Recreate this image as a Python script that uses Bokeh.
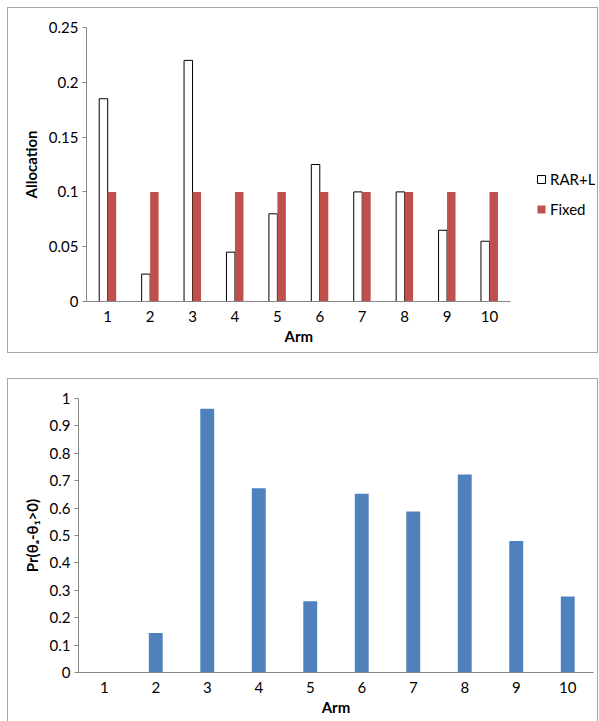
from bokeh.plotting import figure
from bokeh.models import (ColumnDataSource, FactorRange, Range1d, FixedTicker,
                          NumeralTickFormatter, Legend, LegendItem, Spacer, Title)
from bokeh.transform import dodge
from bokeh.layouts import column, row
from bokeh.embed import file_html
from bokeh.resources import INLINE

# ---- data ----
arms = ["1", "2", "3", "4", "5", "6", "7", "8", "9", "10"]
rar_l = [0.185, 0.025, 0.22, 0.045, 0.08, 0.125, 0.1, 0.1, 0.065, 0.055]
fixed = [0.1, 0.1, 0.1, 0.1, 0.1, 0.1, 0.1, 0.1, 0.1, 0.1]
prob = [0.0, 0.144, 0.963, 0.672, 0.26, 0.652, 0.588, 0.723, 0.48, 0.277]
alloc_ticks = [0, 0.05, 0.1, 0.15, 0.2, 0.25]
prob_ticks = [0, 0.1, 0.2, 0.3, 0.4, 0.5, 0.6, 0.7, 0.8, 0.9, 1.0]
legend_space = [" ", "  "]   # empty slots to the right of the bars, for the legend

FONT = "Lato"
AXIS_GREY = "#868686"
BORDER_GREY = "#A6A6A6"
RED = "#C0504D"
BLUE = "#4F81BD"


def style(p, ylabel, xlabel):
    p.outline_line_color = None
    p.xgrid.grid_line_color = None
    p.ygrid.grid_line_color = None
    p.background_fill_color = "white"
    p.border_fill_color = "white"
    for ax in (p.xaxis[0], p.yaxis[0]):
        ax.axis_line_color = AXIS_GREY
        ax.axis_line_width = 1
        ax.major_tick_line_color = AXIS_GREY
        ax.minor_tick_line_color = None
        ax.major_label_text_font = FONT
        ax.major_label_text_font_size = "15px"
        ax.major_label_text_color = "#000000"
        ax.axis_label_text_font = FONT
        ax.axis_label_text_font_size = "15px"
        ax.axis_label_text_font_style = "bold"
        ax.axis_label_text_color = "#000000"
    p.xaxis.major_tick_out = 0
    p.xaxis.major_tick_in = 0
    p.xaxis.major_label_standoff = 9
    p.xaxis.axis_label_standoff = 2
    if xlabel:
        p.xaxis.axis_label = xlabel
    p.yaxis.major_tick_out = 4
    p.yaxis.major_tick_in = 0
    p.yaxis.major_label_standoff = 4
    p.yaxis.axis_label_standoff = 6
    p.yaxis.axis_label = ylabel


# ---- top chart ----
src1 = ColumnDataSource(dict(arm=arms, rar=rar_l, fixed=fixed))
p1 = figure(width=589, height=344,
            x_range=FactorRange(factors=arms + legend_space, range_padding=0),
            y_range=Range1d(0, 0.25),
            output_backend="svg", toolbar_location=None,
            min_border_left=78, min_border_right=2,
            min_border_top=19, min_border_bottom=51)
r1 = p1.vbar(x=dodge("arm", -0.1, range=p1.x_range), top="rar", width=0.2,
             source=src1, fill_color="white", line_color="black", line_width=1)
r2 = p1.vbar(x=dodge("arm", 0.1, range=p1.x_range), top="fixed", width=0.2,
             source=src1, fill_color=RED, line_color=None)
style(p1, "Allocation", None)
p1.xaxis.bounds = (0, len(arms))
p1.yaxis.ticker = FixedTicker(ticks=alloc_ticks)
p1.yaxis.formatter = NumeralTickFormatter(format="0.[00]")

arm_title = Title(text="Arm", align="left", offset=198, standoff=0,
                  text_font=FONT, text_font_size="15px",
                  text_font_style="bold", text_color="#000000")
p1.add_layout(arm_title, "below")

legend = Legend(items=[LegendItem(label="RAR+L", renderers=[r1]),
                       LegendItem(label="Fixed", renderers=[r2])],
                location=(450, 82), border_line_color=None,
                background_fill_alpha=0, padding=0, margin=0, spacing=10,
                glyph_height=10, glyph_width=10, label_height=20,
                label_standoff=4, label_text_font=FONT,
                label_text_font_size="15px", label_text_color="#000000")
p1.add_layout(legend)

# ---- bottom chart ----
src2 = ColumnDataSource(dict(arm=arms, prob=prob))
p2 = figure(width=589, height=342,
            x_range=FactorRange(factors=arms, range_padding=0),
            y_range=Range1d(0, 1),
            output_backend="svg", toolbar_location=None,
            min_border_left=70, min_border_right=4,
            min_border_top=19, min_border_bottom=49)
p2.vbar(x="arm", top="prob", width=0.27, source=src2,
        fill_color=BLUE, line_color=None)
style(p2, "Pr(θₐ-θ₁>0)", "Arm")
p2.yaxis.ticker = FixedTicker(ticks=prob_ticks)
p2.yaxis.formatter = NumeralTickFormatter(format="0.[0]")

box1 = column(p1, styles={"border": f"1px solid {BORDER_GREY}"})
box2 = column(p2, styles={"border": f"1px solid {BORDER_GREY}",
                          "border-bottom": "none"})

layout = column(
    Spacer(height=7),
    row(Spacer(width=7), box1),
    Spacer(height=25),
    row(Spacer(width=7), box2),
)
open("out.html", "w").write(file_html(layout, INLINE))
